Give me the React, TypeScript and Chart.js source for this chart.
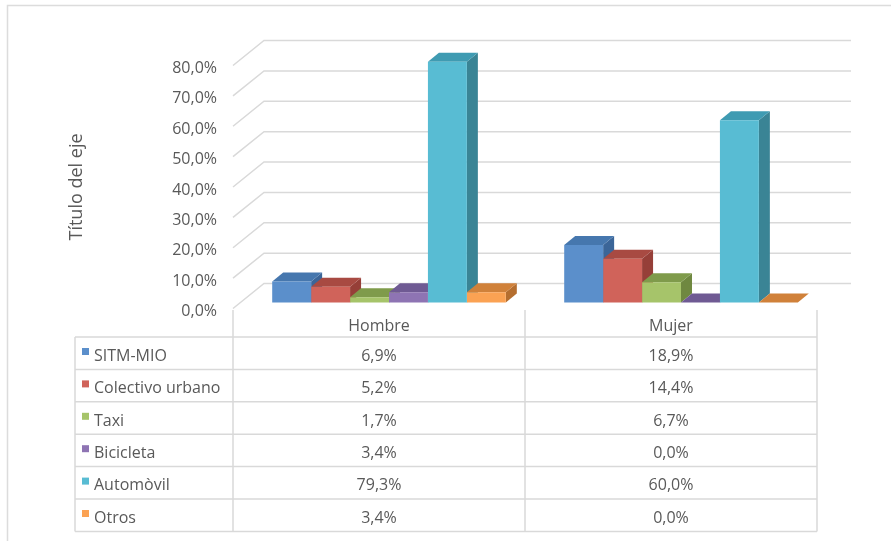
import React, { useEffect, useRef } from "react";
import { Chart, registerables } from "chart.js";

Chart.register(...registerables);

// ---- data ----
const categories = ["Hombre", "Mujer"];
const seriesNames = ["SITM-MIO", "Colectivo urbano", "Taxi", "Bicicleta", "Automòvil", "Otros"];
const sitmMio = [6.9, 18.9];
const colectivoUrbano = [5.2, 14.4];
const taxi = [1.7, 6.7];
const bicicleta = [3.4, 0.0];
const automovil = [79.3, 60.0];
const otros = [3.4, 0.0];
const seriesValues = [sitmMio, colectivoUrbano, taxi, bicicleta, automovil, otros];
const yTickValues = [0, 10, 20, 30, 40, 50, 60, 70, 80];
const axisTitle = "Título del eje";

// ---- styles ----
const frontColors = ["#5B8FCB", "#D0635A", "#A6C46A", "#8E74B3", "#58BCD3", "#FBA253"];
const topColors = ["#4677AE", "#A84A42", "#7F9B4B", "#6F5A93", "#3F9BB2", "#D0813A"];
const sideColors = ["#3B6598", "#963F38", "#6F8840", "#5F4D80", "#3A8495", "#B56E2F"];
const FONT = "'Open Sans', 'Noto Sans', sans-serif";
const TEXT = "#595959";
const GRID = "#d9d9d9";

const formatPct = (v: number) => v.toFixed(1).replace(".", ",") + "%";

// 3D offsets
const BAR_DX = 10;
const BAR_DY = -6;
const DEPTH_DX = 11;
const DEPTH_DY = -9;
const WALL_DX = 31;
const WALL_DY = -25;

const threeDPlugin = {
  id: "threeD",
  beforeDatasetsDraw(chart: any) {
    const { ctx, chartArea } = chart;
    const yScale = chart.scales.y;
    // back wall gridlines
    ctx.save();
    ctx.strokeStyle = GRID;
    ctx.lineWidth = 1.5;
    yTickValues.forEach((v) => {
      const y = yScale.getPixelForValue(v);
      ctx.beginPath();
      ctx.moveTo(chartArea.left, y);
      ctx.lineTo(chartArea.left + WALL_DX, y + WALL_DY);
      ctx.lineTo(chartArea.right + WALL_DX + 3, y + WALL_DY);
      ctx.stroke();
    });
    ctx.restore();

    // shift bar plane, draw side & top faces; fronts drawn by Chart.js afterwards
    ctx.save();
    ctx.translate(BAR_DX, BAR_DY);
    const n = chart.data.labels.length;
    for (let j = 0; j < n; j++) {
      chart.data.datasets.forEach((_: any, i: number) => {
        const meta = chart.getDatasetMeta(i);
        const el: any = meta.data[j];
        if (!el) return;
        const { x, y, base, width } = el.getProps(["x", "y", "base", "width"], true);
        const l = x - width / 2;
        const r = x + width / 2;
        // side
        ctx.fillStyle = sideColors[i];
        ctx.beginPath();
        ctx.moveTo(r, y);
        ctx.lineTo(r + DEPTH_DX, y + DEPTH_DY);
        ctx.lineTo(r + DEPTH_DX, base + DEPTH_DY);
        ctx.lineTo(r, base);
        ctx.closePath();
        ctx.fill();
        // top
        ctx.fillStyle = topColors[i];
        ctx.beginPath();
        ctx.moveTo(l, y);
        ctx.lineTo(l + DEPTH_DX, y + DEPTH_DY);
        ctx.lineTo(r + DEPTH_DX, y + DEPTH_DY);
        ctx.lineTo(r, y);
        ctx.closePath();
        ctx.fill();
      });
    }
  },
  afterDatasetsDraw(chart: any) {
    chart.ctx.restore();
  },
  afterDraw(chart: any) {
    const { ctx, chartArea } = chart;
    const xScale = chart.scales.x;
    const c0 = chartArea.left;
    const c2 = chartArea.right;
    const c1 = (c0 + c2) / 2;
    const xL = 75;
    const headTop = 310;
    const rowTop = 337;
    const rowH = 32.4;
    const nRows = seriesNames.length;
    const bottom = rowTop + rowH * nRows;

    ctx.save();
    // outer border
    ctx.strokeStyle = "#dcdcdc";
    ctx.lineWidth = 1.5;
    ctx.strokeRect(7.5, 5.5, 1000, 1000);

    ctx.strokeStyle = GRID;
    ctx.lineWidth = 1.5;
    ctx.beginPath();
    [c0, c1, c2].forEach((cx) => {
      ctx.moveTo(cx, headTop);
      ctx.lineTo(cx, bottom);
    });
    ctx.moveTo(xL, rowTop);
    ctx.lineTo(xL, bottom);
    for (let k = 0; k <= nRows; k++) {
      const yy = rowTop + rowH * k;
      ctx.moveTo(xL, yy);
      ctx.lineTo(c2, yy);
    }
    ctx.stroke();

    ctx.fillStyle = TEXT;
    ctx.font = `16px ${FONT}`;
    ctx.textBaseline = "middle";
    ctx.textAlign = "center";
    categories.forEach((c, j) => {
      ctx.fillText(c, xScale.getPixelForTick(j), 326);
    });
    seriesNames.forEach((name, i) => {
      const yc = rowTop + rowH * i + rowH / 2 + 3;
      ctx.fillStyle = frontColors[i];
      ctx.fillRect(82, rowTop + rowH * i + 11, 7, 7);
      ctx.fillStyle = TEXT;
      ctx.textAlign = "left";
      ctx.fillText(name, 94, yc);
      ctx.textAlign = "center";
      seriesValues[i].forEach((v, j) => {
        ctx.fillText(formatPct(v), xScale.getPixelForTick(j), yc);
      });
    });
    ctx.restore();
  },
};

export default function App() {
  const canvasRef = useRef<HTMLCanvasElement | null>(null);

  useEffect(() => {
    if (!canvasRef.current) return;
    Chart.defaults.font.family = FONT;
    const padLeft = 60;
    const chart = new Chart(canvasRef.current, {
      type: "bar",
      data: {
        labels: categories,
        datasets: seriesNames.map((name, i) => ({
          label: name,
          data: seriesValues[i],
          backgroundColor: frontColors[i],
          borderWidth: 0,
          categoryPercentage: 0.8,
          barPercentage: 1.0,
          clip: false as any,
        })),
      },
      options: {
        responsive: false,
        animation: false,
        layout: { padding: { left: padLeft, right: 74, top: 65.5, bottom: 232.5 } },
        plugins: {
          legend: { display: false },
          tooltip: { enabled: false },
          title: { display: false },
        },
        scales: {
          x: { display: false, offset: true },
          y: {
            position: "left",
            min: 0,
            max: 80,
            afterFit: (scale: any) => {
              scale.width = 233 - padLeft;
            },
            afterBuildTicks: (scale: any) => {
              scale.ticks = yTickValues.map((v) => ({ value: v }));
            },
            grid: { display: false, drawTicks: false },
            border: { display: false },
            ticks: {
              padding: 16,
              labelOffset: 3,
              color: TEXT,
              font: { size: 16, family: FONT },
              callback: (v: any) => formatPct(Number(v)),
            },
            title: {
              display: true,
              text: axisTitle,
              color: TEXT,
              font: { size: 18, family: FONT },
              padding: { top: 6, bottom: 0 },
            },
          },
        },
      },
      plugins: [threeDPlugin],
    });
    return () => chart.destroy();
  }, []);

  return (
    <div style={{ position: "absolute", left: 0, top: 0, width: 891, height: 541, background: "#fff" }}>
      <canvas ref={canvasRef} width={891} height={541} style={{ width: 891, height: 541, display: "block" }} />
    </div>
  );
}
